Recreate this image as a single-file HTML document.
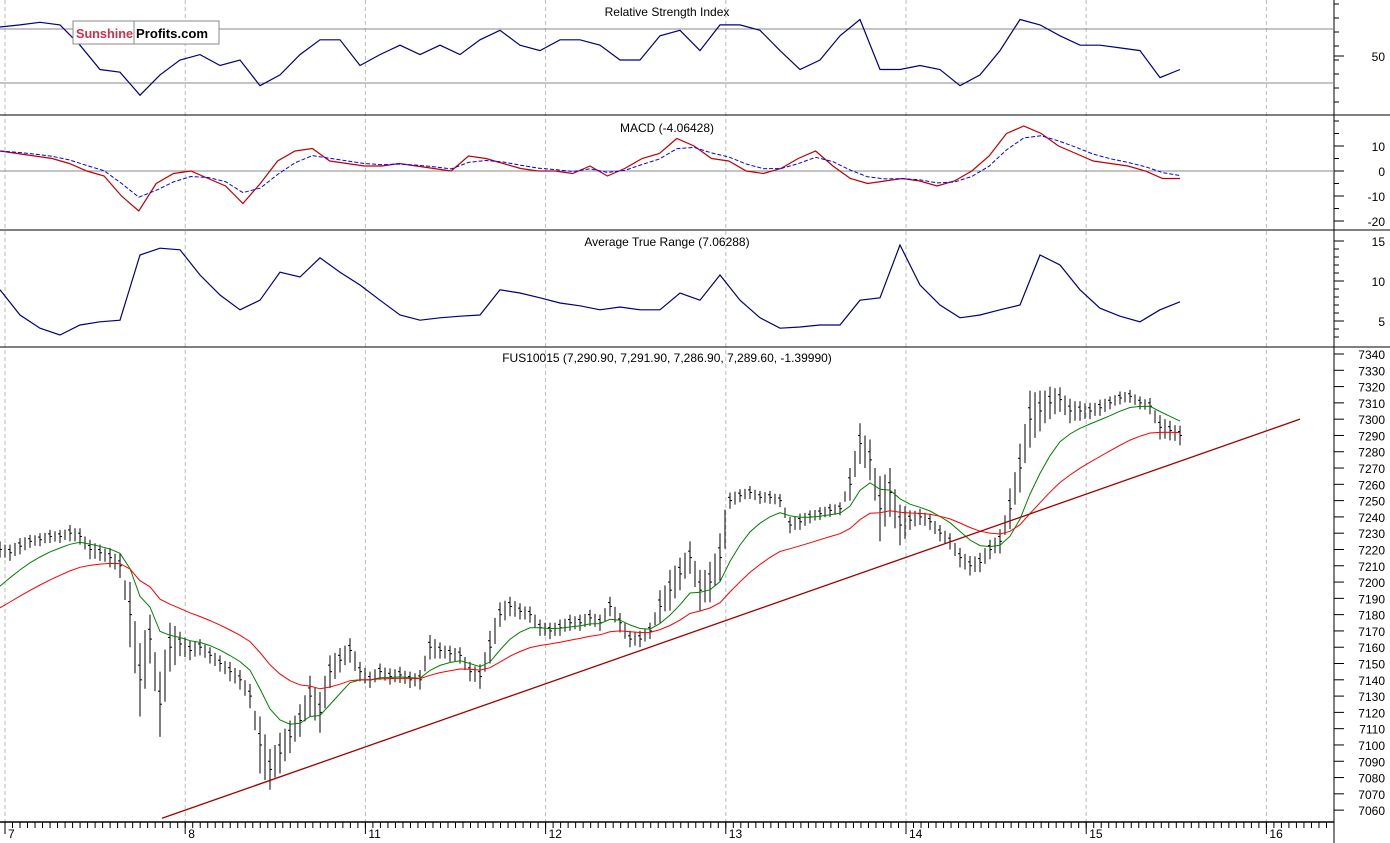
<!DOCTYPE html>
<html><head><meta charset="utf-8"><style>
body{margin:0;background:#fff;}
svg{display:block;font-family:"Liberation Sans",sans-serif;}
</style></head><body>
<svg id="c" width="1390" height="843" viewBox="0 0 1390 843" xmlns="http://www.w3.org/2000/svg"></svg>
<script>
const dayLabels=["7","8","11","12","13","14","15","16"];
const closes=[7220,7218,7222,7225,7226,7228,7228,7230,7228,7220,7218,7215,7210,7180,7140,7165,7125,7160,7162,7158,7160,7155,7150,7145,7140,7130,7100,7085,7095,7105,7115,7130,7120,7145,7152,7158,7145,7140,7145,7142,7143,7140,7140,7160,7158,7156,7155,7145,7142,7160,7180,7185,7182,7180,7172,7170,7172,7175,7175,7178,7175,7185,7175,7165,7165,7170,7185,7195,7205,7215,7195,7200,7215,7250,7253,7255,7252,7252,7250,7235,7237,7240,7242,7244,7245,7260,7285,7275,7245,7255,7235,7238,7240,7237,7230,7225,7215,7210,7212,7220,7225,7245,7270,7300,7305,7310,7312,7305,7305,7305,7307,7310,7313,7314,7310,7308,7295,7293,7290];
const ranges=[10,10,10,8,8,8,8,10,10,12,10,12,15,40,45,30,40,30,15,12,10,10,10,12,12,15,35,25,25,20,20,25,25,20,15,15,12,10,10,10,10,10,12,15,10,10,10,12,15,20,15,12,10,10,10,10,10,10,10,10,10,12,12,10,10,10,20,25,20,20,25,25,30,10,8,8,8,8,8,10,10,8,8,8,8,20,25,25,40,30,25,12,10,10,10,10,12,12,12,12,15,25,30,35,25,20,15,15,12,10,10,8,8,8,8,10,15,12,12];
const rsi=[71.5,73,75,73,58,40,38,21,36,47,51,43,47,28,36,51,62,62,43,51,58,51,58,51,62,69,58,54,62,62,58,47,47,65,69,54,73,73,69,54,40,47,65,77,40,40,43,40,28,36,54,77,73,65,58,58,56,54,34,40];
const macd=[8,7,6,5,3,0,-2,-10,-16,-5,-1,0,-3,-6,-13,-5,4,8,9,4,3,2,2,3,2,1,0,6,5,3,1,0,0,-1,2,-2,1,5,7,13,10,5,4,0,-1,1,5,8,2,-3,-5,-4,-3,-4,-6,-4,0,6,15,18,15,10,7,4,3,2,0,-3,-3];
const atr=[8.9,5.75,4.1,3.25,4.5,4.9,5.1,13.25,14.1,13.9,10.75,8.25,6.4,7.6,11.1,10.5,12.9,11.1,9.5,7.6,5.75,5.1,5.4,5.6,5.75,8.9,8.5,7.9,7.25,6.9,6.4,6.75,6.4,6.4,8.5,7.6,10.75,7.6,5.4,4.1,4.25,4.5,4.5,7.6,7.9,14.5,9.5,7,5.4,5.75,6.4,7,13.25,12,8.9,6.6,5.6,4.9,6.4,7.4];
const trendPrices=[7055,7300];
const rsiTicks=[50];const macdTicks=[10,0,-10,-20];const atrTicks=[15,10,5];
const priceTicks=[];for(let p=7340;p>=7060;p-=10)priceTicks.push(p);

const svg=document.getElementById('c');const NS='http://www.w3.org/2000/svg';
function mk(t,a,p){const e=document.createElementNS(NS,t);for(const k in a)e.setAttribute(k,a[k]);(p||svg).appendChild(e);return e;}
const AX=1334,X0=5,DAY=180.2;
const xIdx=(i,step)=>i*step;
const yP=v=>354+(7340-v)*16.29/10;
const yR=v=>56-(v-50)*1.35;
const yM=v=>171-v*2.5;
const yA=v=>281-(v-10)*8;
dayLabels.forEach((d,i)=>{const x=X0+i*DAY;
 const g=mk('line',{x1:x,y1:0,x2:x,y2:822,stroke:'#bbb','stroke-dasharray':'4,3'});
 
 const t=mk('text',{x:x+3,y:838,'font-size':12,fill:'#000'});t.textContent=d;
 
 mk('line',{x1:x,y1:822,x2:x,y2:834,stroke:'#000'});
});
for(let x=X0-DAY;x<AX;x+=DAY/24){if(x<0)continue;mk('line',{x1:x,y1:822,x2:x,y2:828,stroke:'#000'});}
[115,230,347].forEach(y=>{const l=mk('line',{x1:0,y1:y,x2:1390,y2:y,stroke:'#000'});});
mk('line',{x1:0,y1:822,x2:AX,y2:822,stroke:'#000','stroke-width':1.5});
mk('line',{x1:AX,y1:0,x2:AX,y2:843,stroke:'#000'});
[yR(70),yR(30)].forEach(y=>mk('line',{x1:0,y1:y,x2:AX,y2:y,stroke:'#888'}));
mk('line',{x1:0,y1:yM(0),x2:AX,y2:yM(0),stroke:'#888'});
[["Relative Strength Index",12,'rsi-title'],["MACD (-4.06428)",128,'macd-title'],["Average True Range (7.06288)",242,'atr-title'],["FUS10015 (7,290.90, 7,291.90, 7,286.90, 7,289.60, -1.39990)",358,'price-title']].forEach(a=>{
 const t=mk('text',{x:667,y:a[1]+4,'font-size':12,'text-anchor':'middle',fill:'#000'});t.textContent=a[0];
 });
function ticks(arr,f,name){arr.forEach(v=>{const y=f(v);mk('line',{x1:AX,y1:y,x2:AX+10,y2:y,stroke:'#000'});
 const t=mk('text',{x:1385,y:y+5,'font-size':12,'text-anchor':'end',fill:'#000'});t.textContent=v;
 });}
ticks(rsiTicks,yR,'rsi-tick-label');ticks(macdTicks,yM,'macd-tick-label');ticks(atrTicks,yA,'atr-tick-label');ticks(priceTicks,yP,'price-tick-label');
for(let y=4;y<110;y+=14)mk('line',{x1:AX,y1:y,x2:AX+5,y2:y,stroke:'#000'});
for(let y=121;y<228;y+=12.5)mk('line',{x1:AX,y1:y,x2:AX+5,y2:y,stroke:'#000'});
for(let y=249;y<345;y+=8)mk('line',{x1:AX,y1:y,x2:AX+5,y2:y,stroke:'#000'});
function poly(vals,step,f,attrs,name){const pts=vals.map((v,i)=>xIdx(i,step).toFixed(1)+','+f(v).toFixed(1)).join(' ');
 const p=mk('polyline',Object.assign({points:pts,fill:'none'},attrs));return p;}
const rStep=1180/(rsi.length-1);poly(rsi,rStep,yR,{stroke:'#000080','stroke-width':1.2},'rsi-line');
const mStep=1180/(macd.length-1);poly(macd,mStep,yM,{stroke:'#c00000','stroke-width':1.2},'macd-line');
function ema(a,n,seed){const k=2/(n+1);let e=seed;return a.map(v=>e=e+(v-e)*k);}
poly(ema(macd,3,macd[0]),mStep,yM,{stroke:'#0000ff','stroke-width':1,'stroke-dasharray':'4,2'},'macd-signal-line');
const aStep=1180/(atr.length-1);poly(atr,aStep,yA,{stroke:'#000080','stroke-width':1.2},'atr-line');
const pStep=1180/(closes.length-1);
closes.forEach((c,i)=>{const x=xIdx(i,pStep),r=ranges[i];
 const g=mk('g',{stroke:'#000','stroke-width':1});
 mk('line',{x1:x,y1:yP(c+r*0.5),x2:x,y2:yP(c-r*0.5)},g);
 mk('line',{x1:x-2,y1:yP(c+r*0.2),x2:x,y2:yP(c+r*0.2)},g);
 mk('line',{x1:x,y1:yP(c),x2:x+2,y2:yP(c)},g);
 const x2=x+pStep/2,c2=(c+(closes[i+1]||c))/2;
 if(i<closes.length-1){mk('line',{x1:x2,y1:yP(c2+r*0.4),x2:x2,y2:yP(c2-r*0.4)},g);}
});
poly(ema(closes,7,7190),pStep,yP,{stroke:'#008000','stroke-width':1},'ma-short');
poly(ema(closes,18,7180),pStep,yP,{stroke:'#ff0000','stroke-width':1},'ma-long');
const tl=mk('line',{x1:162,y1:yP(trendPrices[0]),x2:1300,y2:yP(trendPrices[1]),stroke:'#a00000','stroke-width':1.3});

const lg=mk('g',{});
mk('rect',{x:73,y:21,width:146,height:23,fill:'#fff',stroke:'#888'},lg);
mk('line',{x1:134,y1:21,x2:134,y2:44,stroke:'#888'},lg);
const t1=mk('text',{x:76,y:38,'font-size':13,'font-weight':'bold',fill:'#d0304a',textLength:57,lengthAdjust:'spacingAndGlyphs'},lg);t1.textContent='Sunshine';
const t2=mk('text',{x:136,y:38,'font-size':13,'font-weight':'bold',fill:'#000',textLength:72,lengthAdjust:'spacingAndGlyphs'},lg);t2.textContent='Profits.com';
</script>
</body></html>
